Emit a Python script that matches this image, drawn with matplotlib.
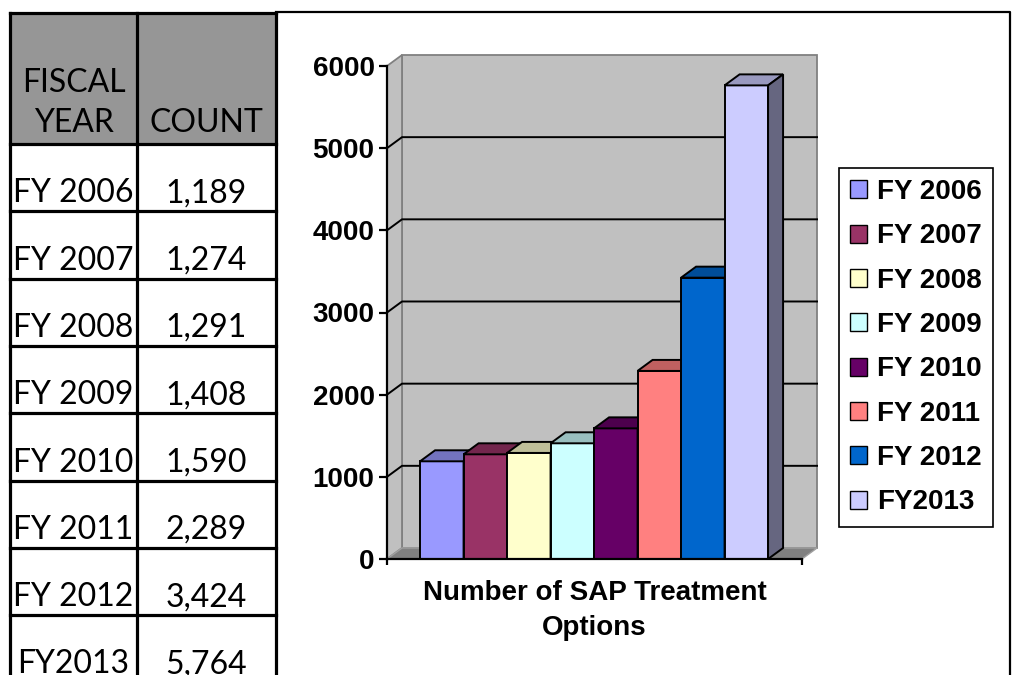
import matplotlib.pyplot as plt
from matplotlib.patches import Rectangle, Polygon, Patch
from matplotlib.colors import to_rgb

# fiscal years and counts
years = ['FY 2006', 'FY 2007', 'FY 2008', 'FY 2009', 'FY 2010', 'FY 2011', 'FY 2012', 'FY2013']
counts = [1189, 1274, 1291, 1408, 1590, 2289, 3424, 5764]
colors = ['#9999FF', '#993366', '#FFFFCC', '#CCFFFF', '#660066', '#FF8080', '#0066CC', '#CCCCFF']
yticks = [0, 1000, 2000, 3000, 4000, 5000, 6000]
x_title = 'Number of SAP Treatment\nOptions'
head_year = 'FISCAL\nYEAR'
head_count = 'COUNT'

W, H = 1013, 675
fig = plt.figure(figsize=(W / 100, H / 100), dpi=100)

tfont = dict(family='Lato', size=23)
cfont = dict(family='Liberation Sans', weight='bold', size=20)


def shade(c, f):
    r, g, b = to_rgb(c)
    return (r * f, g * f, b * f)


# --- table on the left, drawn in pixel units ---
bg = fig.add_axes([0, 0, 1, 1], zorder=0)
bg.set_xlim(0, W)
bg.set_ylim(H, 0)
bg.axis('off')

tx0, tx1, tx2 = 10, 137, 276
ty0, head_h, row_h = 13, 131, 67.3
bg.add_patch(Rectangle((tx0, ty0), tx2 - tx0, head_h, facecolor='#969696', edgecolor='none'))
lines_y = [ty0, ty0 + head_h] + [ty0 + head_h + row_h * (i + 1) for i in range(len(years))]
for y in lines_y:
    bg.plot([tx0, tx2], [y, y], color='black', lw=2.3, solid_capstyle='projecting')
for x in (tx0, tx1, tx2):
    bg.plot([x, x], [ty0, H + 10], color='black', lw=2.3, solid_capstyle='projecting')

c0, c1 = (tx0 + tx1) / 2, (tx1 + tx2) / 2
bg.text(c0, ty0 + head_h - 12, head_year, ha='center', va='baseline', multialignment='center',
        linespacing=1.4, **tfont)
bg.text(c1, ty0 + head_h - 12, head_count, ha='center', va='baseline', **tfont)
for i, (yr, n) in enumerate(zip(years, counts)):
    yb = ty0 + head_h + row_h * (i + 1) - 9
    bg.text(c0, yb, yr, ha='center', va='baseline', **tfont)
    bg.text(c1, yb, f'{n:,}', ha='center', va='baseline', **tfont)

# chart frame
bg.plot([tx2, 1010, 1010], [12, 12, H + 10], color='black', lw=1.6)

# --- 3D style column chart ---
ax = fig.add_axes([387 / W, (H - 559) / H, (802 - 387) / W, (559 - 66) / H], zorder=1)
ax.patch.set_visible(False)
xmin, xmax = -1.26, 8.28
ax.set_xlim(xmin, xmax)
ax.set_ylim(0, 6000)
dx, dy = 0.345, 134
top = yticks[-1]

wall = '#C0C0C0'
edge = '#808080'
ax.add_patch(Rectangle((xmin + dx, dy), xmax - xmin, top, facecolor=wall, edgecolor=edge,
                       lw=1.3, clip_on=False, zorder=0.5))
ax.add_patch(Polygon([(xmin, 0), (xmin, top), (xmin + dx, top + dy), (xmin + dx, dy)],
                     facecolor=wall, edgecolor=edge, lw=1.3, clip_on=False, zorder=0.5))
ax.add_patch(Polygon([(xmin, 0), (xmax, 0), (xmax + dx, dy), (xmin + dx, dy)],
                     facecolor='#808080', edgecolor='#A0A0A0', lw=1.0, clip_on=False, zorder=0.6))
for t in yticks[1:-1]:
    ax.plot([xmin, xmin + dx, xmax + dx], [t, t + dy, t + dy], color='black', lw=1.4,
            clip_on=False, zorder=0.8)

for i, (v, c) in enumerate(zip(counts, colors)):
    z = 2 + i
    ax.bar(i, v, width=1.0, color=c, edgecolor='black', linewidth=1.4, zorder=z)
    ax.add_patch(Polygon([(i - 0.5, v), (i + 0.5, v), (i + 0.5 + dx, v + dy), (i - 0.5 + dx, v + dy)],
                         facecolor=shade(c, 0.75), edgecolor='black', lw=1.4, clip_on=False, zorder=z))
    ax.add_patch(Polygon([(i + 0.5, 0), (i + 0.5, v), (i + 0.5 + dx, v + dy), (i + 0.5 + dx, dy)],
                         facecolor=shade(c, 0.5), edgecolor='black', lw=1.4, clip_on=False, zorder=z))

for s in ('top', 'right'):
    ax.spines[s].set_visible(False)
for s in ('left', 'bottom'):
    ax.spines[s].set_linewidth(1.6)
    ax.spines[s].set_zorder(20)
ax.set_yticks(yticks)
ax.set_yticklabels([str(t) for t in yticks], **cfont)
ax.set_xticks([xmin, xmax])
ax.set_xticklabels(['', ''])
ax.tick_params(axis='y', direction='out', length=6, width=1.6, pad=3)
ax.tick_params(axis='x', direction='out', length=4.5, width=1.6)
ax.set_xlabel(x_title, labelpad=7, linespacing=1.45, **cfont)

handles = [Patch(facecolor=c, edgecolor='black', linewidth=1.0) for c in colors]
leg = fig.legend(handles, years, loc='upper left', bbox_to_anchor=(839 / W, 1 - 168 / H),
                 prop=cfont, frameon=True, fancybox=False, edgecolor='black', framealpha=1,
                 borderpad=0.4, labelspacing=0.66, handlelength=0.62, handleheight=0.62,
                 handletextpad=0.35, borderaxespad=0)
leg.get_frame().set_linewidth(1.2)

fig.savefig('out.png', dpi=100)
